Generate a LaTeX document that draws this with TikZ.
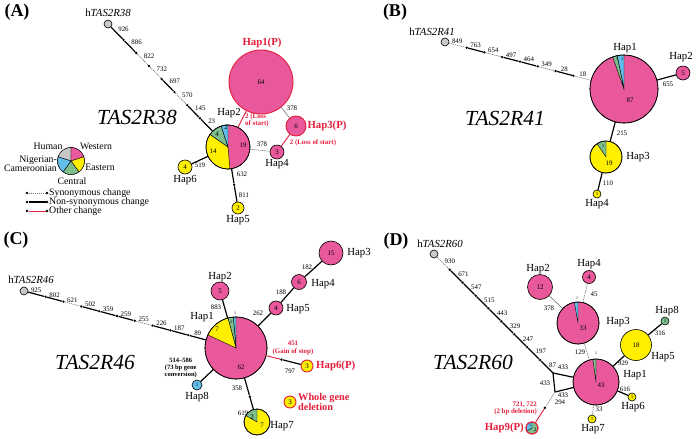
\documentclass[tikz,border=0pt]{standalone}
\usepackage{fontspec}
\setmainfont{Liberation Serif}
\usetikzlibrary{calc}
\definecolor{pinkc}{RGB}{232,88,154}
\definecolor{yelc}{RGB}{255,240,0}
\definecolor{grnc}{RGB}{125,190,140}
\definecolor{bluc}{RGB}{100,190,235}
\definecolor{grayc}{RGB}{200,200,200}
\definecolor{redc}{RGB}{228,30,60}
\newcommand\numf{\fontsize{6.9}{7.4}\selectfont}
\newcommand\pieslice[5]{\filldraw[fill=#5,draw=black,line width=0.4pt] (#1) -- ++({-(#3)}:#2) arc[start angle={-(#3)},end angle={-(#4)},radius=#2] -- cycle;}
\begin{document}
\begin{tikzpicture}[x=1pt,y=-1pt,
  hap/.style={circle,draw=black,line width=0.6pt,inner sep=0pt,font=\numf},
  ptv/.style={draw=redc,line width=0.9pt},
  mdot/.style={circle,fill=black,inner sep=0pt,minimum size=2.6pt},
  non/.style={draw=black,line width=1.2pt},
  syn/.style={draw=black!55,line width=0.6pt,dash pattern=on 1.2pt off 0.8pt},
  oth/.style={draw=redc,line width=0.9pt},
  num/.style={font=\numf,inner sep=1pt},
  tinyn/.style={font=\fontsize{4}{4}\selectfont,inner sep=0pt},
  hapl/.style={font=\fontsize{10.8}{11}\selectfont,inner sep=0pt},
  legl/.style={font=\fontsize{9.8}{10}\selectfont,inner sep=0pt},
  redl/.style={text=redc,font=\bfseries\fontsize{10.8}{11}\selectfont,inner sep=0pt},
  redn/.style={text=redc,font=\bfseries\fontsize{6.9}{7.3}\selectfont,inner sep=0pt,align=center},
  big/.style={font=\itshape\fontsize{21.5}{22}\selectfont,inner sep=0pt},
  panel/.style={font=\bfseries\fontsize{18}{18}\selectfont,inner sep=0pt},
  la/.style={num,anchor=south west},
  lb/.style={num,anchor=south,inner sep=1.5pt},
  ld/.style={num,anchor=west,inner sep=1.5pt,yshift=2pt},
]
\useasboundingbox (0,0) rectangle (697,439);
\fill[white] (0,0) rectangle (697,439);

%%%%%%%%%%%%%%%% Panel A
\node[panel] (pA) at (17,12) {(A)};
\node[hap,fill=grayc,minimum size=8pt] (A0) at (108,24) {};
\node[hapl] (lA0) at (108,13) {h\textit{TAS2R38}};
\node[hap,fill=pinkc,ptv,minimum size=64pt] (A1) at (261,82) {64};
\node[redl] (lA1) at (262,43) {Hap1(P)};
\node[hap,fill=pinkc,minimum size=44pt] (A2) at (228,147) {};
\pieslice{A2.center}{22}{145}{275}{yelc}
\pieslice{A2.center}{22}{108}{145}{grnc}
\pieslice{A2.center}{22}{90}{108}{bluc}
\draw[line width=0.6pt] (A2.center) circle[radius=22];
\node[num] (nA19) at (243,145) {19};
\node[num] (nA14) at (213,151) {14};
\node[num] (nA4) at (217,134) {4};
\node[num] (nA2) at (226,127) {2};
\node[hapl] (lA2) at (229,113) {Hap2};
\node[hap,fill=pinkc,ptv,minimum size=20pt] (A3) at (296,126) {6};
\node[redl] (lA3) at (327,126) {Hap3(P)};
\node[hap,fill=pinkc,minimum size=14pt] (A4) at (277,152) {3};
\node[hapl] (lA4) at (277,164) {Hap4};
\node[hap,fill=yelc,minimum size=14pt] (A6) at (185,167) {4};
\node[hapl] (lA6) at (185,180) {Hap6};
\node[hap,fill=yelc,minimum size=12pt] (A5) at (238,208) {2};
\node[hapl] (lA5) at (238,220) {Hap5};
\node[big] (tA) at (137,117) {TAS2R38};

\coordinate (As) at ($(A0)!4pt!(A2)$);
\coordinate (Ae) at ($(A2)!22pt!(A0)$);
\foreach \k in {1,...,7} \node[mdot] (Ad\k) at ($(As)!\k/8!(Ae)$) {};
\draw[non] (A0) -- node[la] (mA1) {926} (Ad1);
\draw[non] (Ad1) -- node[la] (mA2) {886} (Ad2);
\draw[syn] (Ad2) -- node[la] (mA3) {822} (Ad3);
\draw[syn] (Ad3) -- node[la] (mA4) {732} (Ad4);
\draw[non] (Ad4) -- node[la] (mA5) {697} (Ad5);
\draw[syn] (Ad5) -- node[la] (mA6) {570} (Ad6);
\draw[non] (Ad6) -- node[la] (mA7) {145} (Ad7);
\draw[non] (Ad7) -- node[la] (mA8) {23} (A2);

\draw[oth] (A1) -- (A2);
\node[redn,align=left,anchor=west] (rA1) at (245,120) {2 (Loss\\of start)};
\draw[syn,dash pattern=] (A1) -- (A3);
\node[num] (nA378a) at (292,108) {378};
\draw[oth] (A3) -- (A4);
\node[redn] (rA2) at (313,143) {2 (Loss of start)};
\draw[syn] (A2) -- (A4);
\node[num] (nA378b) at (262,144) {378};
\draw[non] (A2) -- (A6);
\node[num] (nA519) at (200,165) {519};
\node[mdot] (Ad8) at ($(A2)!0.62!(A5)$) {};
\draw[non] (A2) -- (Ad8);
\draw[non] (Ad8) -- (A5);
\node[num] (nA632) at (242,174) {632};
\node[num] (nA811) at (244,195) {811};

% legend
\node[hap,minimum size=27pt] (L) at (71,161) {};
\pieslice{L.center}{13.5}{90}{162}{grayc}
\pieslice{L.center}{13.5}{18}{90}{pinkc}
\pieslice{L.center}{13.5}{-54}{18}{yelc}
\pieslice{L.center}{13.5}{-126}{-54}{grnc}
\pieslice{L.center}{13.5}{162}{234}{bluc}
\node[legl] (LH) at (48,146) {Human};
\node[legl] (LW) at (96,146) {Western};
\node[legl] (LE) at (100,167) {Eastern};
\node[legl] (LC) at (72,181) {Central};
\node[legl,align=right,anchor=east,font=\fontsize{9.8}{8.6}\selectfont] (LN) at (57,164) {Nigerian-\\Cameroonian};
\node[mdot] (Ls1) at (27,193) {}; \node[mdot] (Ls2) at (47,193) {};
\node[mdot] (Ln1) at (27,202) {}; \node[mdot] (Ln2) at (47,202) {};
\node[mdot] (Lo1) at (27,211) {}; \node[mdot] (Lo2) at (47,211) {};
\draw[syn] (Ls1) -- (Ls2);
\draw[non] (Ln1) -- (Ln2);
\draw[oth] (Lo1) -- (Lo2);
\node[legl,anchor=west] (LtS) at (49,193) {Synonymous change};
\node[legl,anchor=west] (LtN) at (49,202) {Non-synonymous change};
\node[legl,anchor=west] (LtO) at (49,211) {Other change};

%%%%%%%%%%%%%%%% Panel B
\node[panel] (pB) at (395,12) {(B)};
\node[hap,fill=grayc,minimum size=8pt] (B0) at (445,42) {};
\node[hapl] (lB0) at (432,32) {h\textit{TAS2R41}};
\node[hap,fill=pinkc,minimum size=68pt] (B1) at (624,89) {};
\pieslice{B1.center}{34}{90}{101.7}{bluc}
\pieslice{B1.center}{34}{101.7}{109.5}{grnc}
\draw[line width=0.6pt] (B1.center) circle[radius=34];
\node[tinyn] (nB1g) at (617,59) {3};
\node[tinyn] (nB1b) at (622,59) {3};
\node[num] (nB87) at (630,100) {87};
\node[hapl] (lB1) at (625,48) {Hap1};
\node[hap,fill=pinkc,minimum size=14pt] (B2) at (683,73) {5};
\node[hapl] (lB2) at (681,57) {Hap2};
\node[hap,fill=yelc,minimum size=32pt] (B3) at (606,157) {};
\pieslice{B3.center}{16}{90}{124}{grnc}
\draw[line width=0.6pt] (B3.center) circle[radius=16];
\node[tinyn] (nB3g) at (603,146) {2};
\node[num] (nB19) at (609,163) {19};
\node[hapl] (lB3) at (638,157) {Hap3};
\node[hap,fill=yelc,minimum size=8pt,font=\fontsize{5}{5}\selectfont] (B4) at (597,194) {1};
\node[hapl] (lB4) at (597,204) {Hap4};
\node[big] (tB) at (505,118) {TAS2R41};

\coordinate (Bs) at ($(B0)!4pt!(B1)$);
\coordinate (Be) at ($(B1)!34pt!(B0)$);
\foreach \k in {1,...,7} \node[mdot] (Bd\k) at ($(Bs)!\k/8!(Be)$) {};
\draw[syn] (B0) -- node[lb] (mB1) {849} (Bd1);
\draw[non] (Bd1) -- node[lb] (mB2) {763} (Bd2);
\draw[syn] (Bd2) -- node[lb] (mB3) {654} (Bd3);
\draw[non] (Bd3) -- node[lb] (mB4) {497} (Bd4);
\draw[non] (Bd4) -- node[lb] (mB5) {464} (Bd5);
\draw[syn] (Bd5) -- node[lb] (mB6) {349} (Bd6);
\draw[non] (Bd6) -- node[lb] (mB7) {28} (Bd7);
\draw[syn] (Bd7) -- node[lb] (mB8) {18} (B1);
\draw[non] (B1) -- (B2);
\node[num] (nB655) at (668,84) {655};
\draw[non] (B1) -- (B3);
\node[num] (nB215) at (622,133) {215};
\draw[non] (B3) -- (B4);
\node[num] (nB110) at (608,183) {110};

%%%%%%%%%%%%%%%% Panel C
\node[panel] (pC) at (16,240) {(C)};
\node[hap,fill=grayc,minimum size=8pt] (C0) at (24,291) {};
\node[hapl] (lC0) at (31,280) {h\textit{TAS2R46}};
\node[hap,fill=pinkc,minimum size=62pt] (C1) at (236,348) {};
\pieslice{C1.center}{31}{90}{95}{bluc}
\pieslice{C1.center}{31}{95}{105}{grnc}
\pieslice{C1.center}{31}{105}{155}{yelc}
\draw[line width=0.6pt] (C1.center) circle[radius=31];
\node[tinyn] (nC1b) at (235,313) {1};
\node[tinyn] (nC1g) at (231,322) {2};
\node[num] (nC7) at (217,329) {7};
\node[num] (nC62) at (241,367) {62};
\node[hapl] (lC1) at (202,317) {Hap1};
\node[hap,fill=pinkc,minimum size=18pt] (C2) at (220,291) {5};
\node[hapl] (lC2) at (220,277) {Hap2};
\node[hap,fill=pinkc,minimum size=14pt] (C5) at (276,308) {4};
\node[hapl] (lC5) at (298,309) {Hap5};
\node[hap,fill=pinkc,minimum size=15pt] (C4) at (299,282) {6};
\node[hapl] (lC4) at (323,284) {Hap4};
\node[hap,fill=pinkc,minimum size=24pt] (C3) at (331,253) {15};
\node[hapl] (lC3) at (359,253) {Hap3};
\node[hap,fill=yelc,ptv,minimum size=12pt] (C6) at (307,366) {3};
\node[redl,anchor=west] (lC6) at (316,366) {Hap6(P)};
\node[hap,fill=yelc,ptv,minimum size=12pt] (Cw) at (290,402) {3};
\node[redl,anchor=west,align=left,font=\bfseries\fontsize{10.3}{8}\selectfont] (lCw) at (298,402) {Whole gene\\deletion};
\node[hap,fill=bluc,minimum size=10pt,font=\fontsize{5}{5}\selectfont] (C8) at (197,385) {1};
\node[hapl] (lC8) at (197,397) {Hap8};
\node[hap,fill=yelc,minimum size=26pt] (C7) at (257,422) {};
\pieslice{C7.center}{13}{90}{150}{grnc}
\draw[line width=0.6pt] (C7.center) circle[radius=13];
\node[num] (nC7g) at (252,417) {2};
\node[num] (nC7y) at (262,425) {7};
\node[hapl] (lC7) at (282,426) {Hap7};
\node[big] (tC) at (95,362) {TAS2R46};

\coordinate (Cs) at ($(C0)!4pt!(C1)$);
\coordinate (Ce) at ($(C1)!31pt!(C0)$);
\foreach \k in {1,...,9} \node[mdot] (Cd\k) at ($(Cs)!\k/10!(Ce)$) {};
\draw[non] (C0) -- node[lb] (mC1) {925} (Cd1);
\draw[non] (Cd1) -- node[lb] (mC2) {802} (Cd2);
\draw[syn] (Cd2) -- node[lb] (mC3) {621} (Cd3);
\draw[non] (Cd3) -- node[lb] (mC4) {502} (Cd4);
\draw[non] (Cd4) -- node[lb] (mC5) {359} (Cd5);
\draw[non] (Cd5) -- node[lb] (mC6) {259} (Cd6);
\draw[syn] (Cd6) -- node[lb] (mC7) {255} (Cd7);
\draw[non] (Cd7) -- node[lb] (mC8) {226} (Cd8);
\draw[non] (Cd8) -- node[lb] (mC9) {187} (Cd9);
\draw[non] (Cd9) -- node[lb] (mC10) {89} (C1);
\draw[non] (C1) -- (C2);
\node[num] (nC883) at (216,307) {883};
\draw[non] (C1) -- (C5);
\node[num] (nC262) at (258,313) {262};
\draw[non] (C5) -- (C4);
\node[num] (nC188) at (281,292) {188};
\draw[non] (C4) -- (C3);
\node[num] (nC182) at (307,267) {182};
\node[mdot] (Cd10) at ($(C1)!0.64!(C6)$) {};
\draw[oth] (C1) -- (Cd10);
\draw[non] (Cd10) -- (C6);
\node[redn] (rC1) at (293,348) {451\\(Gain of stop)};
\node[num] (nC797) at (290,371) {797};
\draw[non] (C1) -- (C8);
\node[font=\bfseries\fontsize{6.5}{7}\selectfont,inner sep=0pt,align=center,anchor=east] (nC514) at (197,368) {514–586\\(73 bp gene\\conversion)};
\node[mdot] (Cd11) at ($(C1)!0.66!(C7)$) {};
\draw[non] (C1) -- (Cd11);
\draw[non] (Cd11) -- (C7);
\node[num] (nC358) at (237,388) {358};
\node[num] (nC619) at (243,413) {619};

%%%%%%%%%%%%%%%% Panel D
\node[panel] (pD) at (396,241) {(D)};
\node[hap,fill=grayc,minimum size=8pt] (D0) at (434,254) {};
\node[hapl] (lD0) at (440,244) {h\textit{TAS2R60}};
\coordinate (J1) at (553,373);
\coordinate (J2) at (555,392);
\node[hap,fill=pinkc,minimum size=46pt] (D1) at (596,382) {};
\pieslice{D1.center}{23}{90}{98}{grnc}
\draw[line width=0.6pt] (D1.center) circle[radius=23];
\node[tinyn] (nD1g) at (596,353) {1};
\node[num] (nD43) at (601,385) {43};
\node[hapl] (lD1) at (635,375) {Hap1};
\node[hap,fill=pinkc,minimum size=42pt] (D3) at (578,323) {};
\pieslice{D3.center}{21}{90}{100}{bluc}
\draw[line width=0.6pt] (D3.center) circle[radius=21];
\node[tinyn] (nD3b) at (577,298) {1};
\node[num] (nD33) at (583,328) {33};
\node[hapl] (lD3) at (618,322) {Hap3};
\node[hap,fill=pinkc,minimum size=25pt] (D2) at (540,287) {12};
\node[hapl] (lD2) at (538,269) {Hap2};
\node[hap,fill=pinkc,minimum size=13pt] (D4) at (589,277) {4};
\node[hapl] (lD4) at (589,264) {Hap4};
\node[hap,fill=yelc,minimum size=31pt] (D5) at (636,345) {18};
\node[hapl] (lD5) at (663,357) {Hap5};
\node[hap,fill=grnc,minimum size=8pt,font=\fontsize{5}{5}\selectfont] (D8) at (665,321) {1};
\node[hapl] (lD8) at (667,311) {Hap8};
\node[hap,fill=yelc,minimum size=8pt,font=\fontsize{5}{5}\selectfont] (D6) at (632,397) {1};
\node[hapl] (lD6) at (633,407) {Hap6};
\node[hap,fill=yelc,minimum size=8pt,font=\fontsize{5}{5}\selectfont] (D7) at (592,419) {1};
\node[hapl] (lD7) at (593,429) {Hap7};
\node[hap,ptv,fill=grnc,minimum size=12pt] (D9) at (532,428) {};
\pieslice{D9.center}{6}{90}{210}{bluc}
\draw[redc,line width=0.9pt] (D9.center) circle[radius=6];
\node[tinyn] (nD9b) at (530,425.5) {1};
\node[tinyn,font=\fontsize{5}{5}\selectfont] (nD9g) at (535,430) {2};
\node[redl,anchor=east] (lD9) at (524,428) {Hap9(P)};
\node[redn,align=right,anchor=east] (rD1) at (537,408.5) {721, 722\\(2 bp deletion)};
\node[big] (tD) at (473,362) {TAS2R60};

\coordinate (Ds) at ($(D0)!4pt!(J1)$);
\foreach \k in {1,...,8} \node[mdot] (Dd\k) at ($(Ds)!\k/9!(J1)$) {};
\draw[syn] (D0) -- node[ld] (mD1) {930} (Dd1);
\draw[non] (Dd1) -- node[ld] (mD2) {671} (Dd2);
\draw[non] (Dd2) -- node[ld] (mD3) {547} (Dd3);
\draw[non] (Dd3) -- node[ld] (mD4) {515} (Dd4);
\draw[non] (Dd4) -- node[ld] (mD5) {443} (Dd5);
\draw[non] (Dd5) -- node[ld] (mD6) {329} (Dd6);
\draw[non] (Dd6) -- node[ld] (mD7) {247} (Dd7);
\draw[non] (Dd7) -- node[ld] (mD8) {197} (Dd8);
\draw[non] (Dd8) -- node[ld] (mD9) {87} (J1);
\draw[non] (J1) -- (D1);
\draw[non] (J1) -- (J2);
\draw[non] (J2) -- (D1);
\node[num] (nD433a) at (563,367) {433};
\node[num] (nD433b) at (545,383) {433};
\node[num] (nD433c) at (563,395) {433};
\node[mdot] (Dd9) at ($(J2)!0.44!(D9)$) {};
\draw[syn] (J2) -- (Dd9);
\draw[oth] (Dd9) -- (D9);
\node[num] (nD294) at (560,402) {294};
\draw[syn,dash pattern=] (D3) -- (D2);
\node[num] (nD378) at (549,308) {378};
\draw[syn] (D4) -- (D3);
\node[num] (nD45) at (594,294) {45};
\draw[syn] (D3) -- (D1);
\node[num] (nD129) at (580,352) {129};
\draw[non] (D1) -- (D5);
\node[num] (nD929) at (623,363) {929};
\draw[non] (D5) -- (D8);
\node[num] (nD316) at (660,333) {316};
\draw[non] (D1) -- (D6);
\node[num] (nD616) at (625,389) {616};
\draw[syn] (D1) -- (D7);
\node[num] (nD33b) at (599,409) {33};
\end{tikzpicture}
\end{document}
